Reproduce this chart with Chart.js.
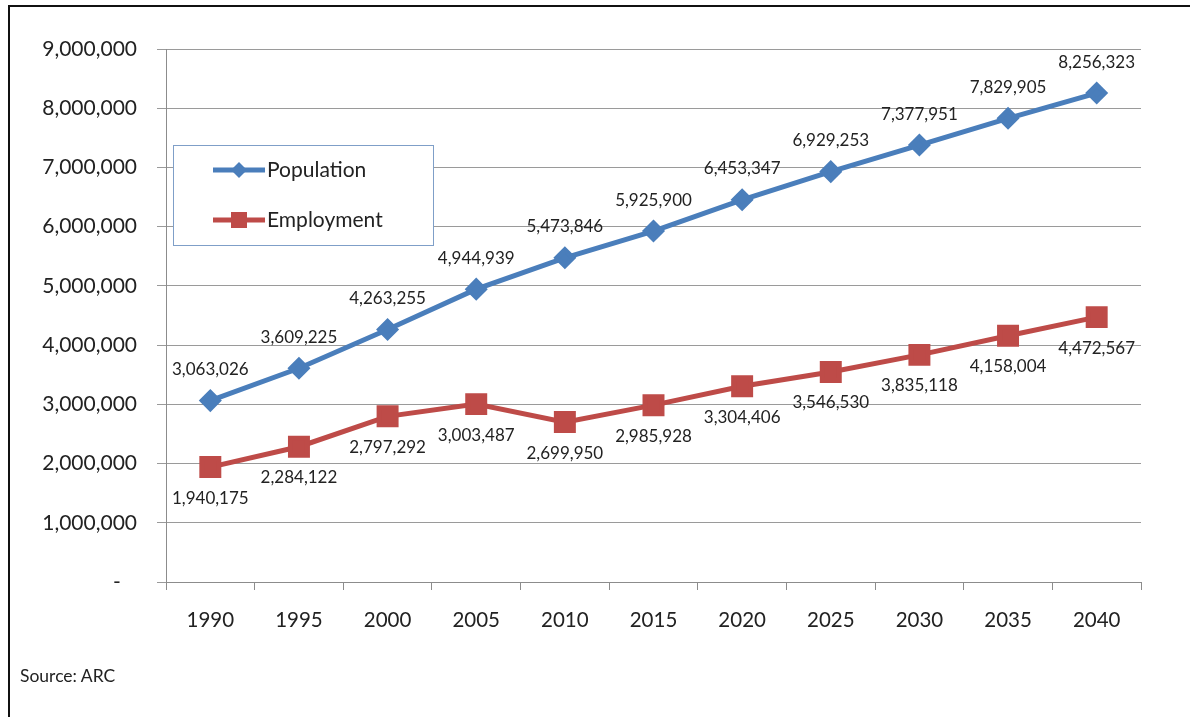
<!DOCTYPE html>
<html>
<head>
<meta charset="utf-8">
<script src="https://cdn.jsdelivr.net/npm/chart.js@4/dist/chart.umd.min.js"></script>
<style>
  body { margin: 0; background: #fff; }
  #wrap { position: relative; width: 1190px; height: 717px; overflow: hidden; }
  #frame { position: absolute; left: 8px; top: 5px; width: 1180px; height: 730px;
           border-top: 2px solid #111; border-left: 2px solid #111; }
  #chart { position: absolute; left: 0; top: 0; }
  #source { position: absolute; left: 20px; top: 665px; font: 17.5px Lato, sans-serif; color: #222; }
</style>
</head>
<body>
<div id="wrap">
  <div id="frame"></div>
  <canvas id="chart" width="1190" height="717"></canvas>
  <div id="source">Source: ARC</div>
</div>
<script>
let years = ["1990","1995","2000","2005","2010","2015","2020","2025","2030","2035","2040"];
let population = [3063026, 3609225, 4263255, 4944939, 5473846, 5925900, 6453347, 6929253, 7377951, 7829905, 8256323];
let employment = [1940175, 2284122, 2797292, 3003487, 2699950, 2985928, 3304406, 3546530, 3835118, 4158004, 4472567];
let seriesNames = ["Population", "Employment"];
let seriesColors = ["#4a7ebb", "#be4b48"];

// value labels: population above the point, employment below
const valueLabels = {
    id: "valueLabels",
    afterDatasetsDraw(chart){
        let ctx = chart.ctx;
        ctx.save();
        ctx.font = "17px Lato, sans-serif";
        ctx.fillStyle = "#222";
        ctx.textAlign = "center";
        ctx.textBaseline = "middle";
        chart.data.datasets.forEach((ds, i) => {
            let offset = i === 0 ? -31 : 31;
            chart.getDatasetMeta(i).data.forEach((pt, j) => {
                ctx.fillText(ds.data[j].toLocaleString("en-US"), pt.x, pt.y + offset);
            });
        });
        ctx.restore();
    }
};

// boxed legend sitting inside the plot area
const boxLegend = {
    id: "boxLegend",
    afterDraw(chart){
        let ctx = chart.ctx;
        ctx.save();
        ctx.fillStyle = "#fff";
        ctx.fillRect(173, 145, 260, 100);
        ctx.strokeStyle = "#7f9fc8";
        ctx.lineWidth = 1;
        ctx.strokeRect(173.5, 145.5, 260, 100);
        let rows = [170, 220];
        ctx.font = "21px Lato, sans-serif";
        ctx.textBaseline = "middle";
        rows.forEach((y, i) => {
            ctx.strokeStyle = seriesColors[i];
            ctx.fillStyle = seriesColors[i];
            ctx.lineWidth = 5;
            ctx.beginPath();
            ctx.moveTo(213, y);
            ctx.lineTo(265, y);
            ctx.stroke();
            ctx.beginPath();
            if(i === 0){
                ctx.moveTo(239, y - 8); ctx.lineTo(247, y); ctx.lineTo(239, y + 8); ctx.lineTo(231, y);
                ctx.closePath();
            } else {
                ctx.rect(231, y - 8, 16, 16);
            }
            ctx.fill();
            ctx.fillStyle = "#222";
            ctx.fillText(seriesNames[i], 267, y);
        });
        ctx.restore();
    }
};

new Chart("chart", {
    type: "line",
    data: {
        labels: years,
        datasets: [
            {
                label: seriesNames[0],
                data: population,
                borderColor: seriesColors[0],
                backgroundColor: seriesColors[0],
                borderWidth: 5,
                pointStyle: "rectRot",
                pointRadius: 8,
                pointHoverRadius: 8,
                tension: 0
            },
            {
                label: seriesNames[1],
                data: employment,
                borderColor: seriesColors[1],
                backgroundColor: seriesColors[1],
                borderWidth: 5,
                pointStyle: "rect",
                pointRadius: 12,
                pointHoverRadius: 12,
                tension: 0
            }
        ]
    },
    options: {
        responsive: false,
        animation: false,
        layout: { padding: { left: 0, right: 49, top: 49, bottom: 0 } },
        plugins: {
            legend: { display: false },
            tooltip: { enabled: false }
        },
        scales: {
            x: {
                offset: true,
                grid: { display: true, drawOnChartArea: false, offset: true, tickLength: 8, color: "#8c8c8c" },
                border: { display: true, color: "#8c8c8c" },
                ticks: { padding: 18, color: "#222", font: { family: "Lato", size: 20.5 } },
                afterFit(s){ s.height = 135; }
            },
            y: {
                min: 0,
                max: 9000000,
                grid: { color: "#9a9a9a", tickLength: 9 },
                border: { display: true, color: "#8c8c8c" },
                ticks: {
                    stepSize: 1000000,
                    padding: 20,
                    color: "#222",
                    font: { family: "Lato", size: 21 },
                    callback: v => v === 0 ? "-   " : v.toLocaleString("en-US")
                },
                afterFit(s){ s.width = 166; }
            }
        }
    },
    plugins: [valueLabels, boxLegend]
});
</script>
</body>
</html>
